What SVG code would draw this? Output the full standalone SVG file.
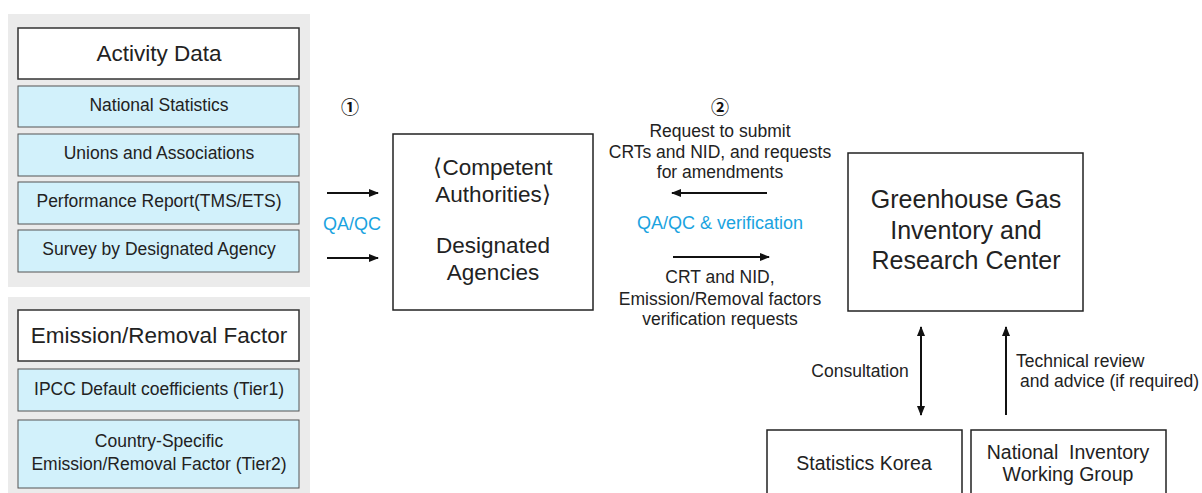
<svg xmlns="http://www.w3.org/2000/svg" width="1202" height="493" viewBox="0 0 1202 493">
<defs>
<style>
text{font-family:"Liberation Sans","Noto Sans",sans-serif;fill:#222;text-anchor:middle}
.panel{fill:#ebebeb}
.hdr{fill:#fff;stroke:#333;stroke-width:1.5}
.item{fill:#d2f1fb;stroke:#555;stroke-width:1}
.box{fill:#fff;stroke:#222;stroke-width:1.5}
.ln{stroke:#111;stroke-width:2;fill:none}
.blue{fill:#1aa3e0}
.num{font-family:"Noto Sans CJK KR","DejaVu Sans",sans-serif;font-size:18px;font-weight:bold;fill:#111}
.lab{font-size:17.5px}
.it{font-size:17.5px}
.s18{font-size:18px}
.s19{font-size:19.5px}
.s22{font-size:22.5px}
.s25{font-size:25px}
</style>
<marker id="ah" viewBox="0 0 10 10" refX="9" refY="5" markerWidth="5" markerHeight="5" orient="auto-start-reverse">
<path d="M0,1 L10,5 L0,9 z" fill="#111"/>
</marker>
</defs>
<rect width="1202" height="493" fill="#fff"/>

<g id="activity-panel">
<rect class="panel" x="8" y="14" width="302" height="273"/>
<g id="activity-data"><rect class="hdr" x="18" y="28" width="281" height="51"/><text class="s22" x="159" y="61">Activity Data</text></g>
<g id="national-statistics"><rect class="item" x="18" y="86" width="281" height="41"/><text class="it" x="159" y="111">National Statistics</text></g>
<g id="unions"><rect class="item" x="18" y="134" width="281" height="42"/><text class="it" x="159" y="159">Unions and Associations</text></g>
<g id="performance"><rect class="item" x="18" y="182" width="281" height="42"/><text class="it" x="159" y="207">Performance Report(TMS/ETS)</text></g>
<g id="survey"><rect class="item" x="18" y="230" width="281" height="42"/><text class="it" x="159" y="255">Survey by Designated Agency</text></g>
</g>

<g id="factor-panel">
<rect class="panel" x="8" y="297" width="302" height="196"/>
<g id="emission-factor"><rect class="hdr" x="18" y="310" width="281" height="51"/><text class="s22" x="159" y="343">Emission/Removal Factor</text></g>
<g id="ipcc"><rect class="item" x="18" y="369" width="281" height="42"/><text class="it" x="159" y="395">IPCC Default coefficients (Tier1)</text></g>
<g id="country-specific"><rect class="item" x="18" y="420" width="281" height="68"/><text class="it" x="159" y="447">Country-Specific</text><text class="it" x="159" y="470">Emission/Removal Factor (Tier2)</text></g>
</g>

<g id="competent">
<rect class="box" x="393" y="134" width="200" height="176"/>
<text class="s22" x="493" y="175">⟨Competent</text>
<text class="s22" x="493" y="202">Authorities⟩</text>
<text class="s22" x="493" y="253">Designated</text>
<text class="s22" x="493" y="280">Agencies</text>
</g>

<g id="ghg-center">
<rect class="box" x="848" y="153" width="235" height="158"/>
<text class="s25" x="966" y="208">Greenhouse Gas</text>
<text class="s25" x="966" y="239">Inventory and</text>
<text class="s25" x="966" y="269">Research Center</text>
</g>

<g id="statistics-korea">
<rect class="box" x="767" y="430" width="195" height="70"/>
<text class="s19" x="864" y="470">Statistics Korea</text>
</g>

<g id="working-group">
<rect class="box" x="971" y="430" width="195" height="70"/>
<text class="s19" x="1068" y="459" style="white-space:pre">National  Inventory</text>
<text class="s19" x="1068" y="481">Working Group</text>
</g>

<g id="connectors">
<line class="ln" x1="327" y1="193" x2="378" y2="193" marker-end="url(#ah)"/>
<line class="ln" x1="327" y1="258" x2="378" y2="258" marker-end="url(#ah)"/>
<line class="ln" x1="767" y1="193" x2="672" y2="193" marker-end="url(#ah)"/>
<line class="ln" x1="673" y1="257" x2="769" y2="257" marker-end="url(#ah)"/>
<line class="ln" x1="921" y1="327" x2="921" y2="415" marker-start="url(#ah)" marker-end="url(#ah)"/>
<line class="ln" x1="1006" y1="415" x2="1006" y2="327" marker-end="url(#ah)"/>
</g>

<g id="labels">
<text class="num" x="350" y="114">①</text>
<text class="s18 blue" x="352" y="230">QA/QC</text>
<text class="num" x="720" y="114">②</text>
<text class="lab" x="720" y="137">Request to submit</text>
<text class="lab" x="720" y="158">CRTs and NID, and requests</text>
<text class="lab" x="720" y="178">for amendments</text>
<text class="s18 blue" x="720" y="229">QA/QC &amp; verification</text>
<text class="lab" x="720" y="283">CRT and NID,</text>
<text class="lab" x="720" y="305">Emission/Removal factors</text>
<text class="lab" x="720" y="325">verification requests</text>
<text class="lab" x="860" y="377">Consultation</text>
<text class="lab" x="1016" y="367" style="text-anchor:start">Technical review</text>
<text class="lab" x="1020" y="387" style="text-anchor:start">and advice (if required)</text>
</g>
</svg>
